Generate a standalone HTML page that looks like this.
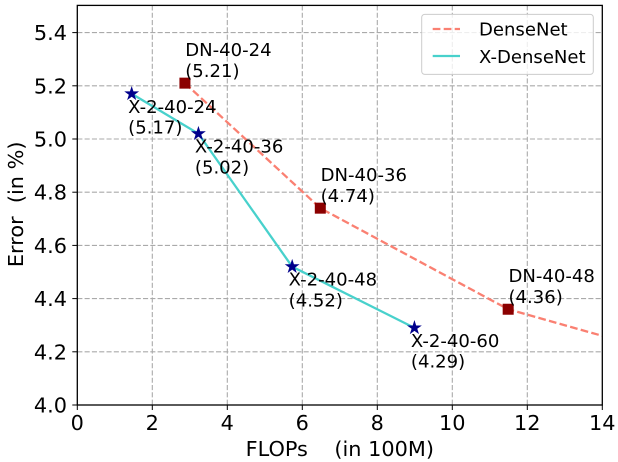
<!DOCTYPE html>
<html>
<head>
<meta charset="utf-8">
<style>
html,body{margin:0;padding:0;background:#fff;width:618px;height:462px;overflow:hidden}
svg{display:block}
text{font-family:"DejaVu Sans","Liberation Sans",sans-serif;fill:#000;white-space:pre}
</style>
</head>
<body>
<svg id="chart" xmlns="http://www.w3.org/2000/svg" width="618" height="462" viewBox="0 0 618 462">
  <rect x="77.3" y="5.4" width="525" height="399.6" fill="#fff"/>
  <g id="grid"></g>
  <defs><clipPath id="plot-clip"><rect x="77.3" y="5.4" width="525" height="399.6"/></clipPath></defs>
  <g id="series" clip-path="url(#plot-clip)"></g>
  <g id="markers"></g>
  <g id="annotations"></g>
  <rect x="77.3" y="5.4" width="525" height="399.6" fill="none" stroke="#000" stroke-width="1.3"/>
  <g id="ticks"></g>
  <text x="339.8" y="456" font-size="20.83" text-anchor="middle">FLOPs    (in 100M)</text>
  <text transform="translate(23,204.3) rotate(-90)" font-size="20.83" text-anchor="middle">Error  (in %)</text>
  <g>
    <rect x="421.7" y="14.4" width="171.6" height="60" rx="3" ry="3" fill="#fff" fill-opacity="0.8" stroke="#ccc" stroke-width="1"/>
    <line x1="432.7" y1="29" x2="460" y2="29" stroke="#fa8072" stroke-width="2.3" stroke-dasharray="7.7 3.3"/>
    <text x="479" y="35.7" font-size="18.06">DenseNet</text>
    <line x1="432.7" y1="56" x2="460" y2="56" stroke="#48d1cc" stroke-width="2.3"/>
    <text x="479" y="63" font-size="18.06">X-DenseNet</text>
  </g>
</svg>
<script>
const xTicks = [0, 2, 4, 6, 8, 10, 12, 14];
const yTicks = [4.0, 4.2, 4.4, 4.6, 4.8, 5.0, 5.2, 5.4];
const denseFlops = [2.87, 6.48, 11.49, 14];
const denseError = [5.21, 4.74, 4.36, 4.26];
const denseLabels = ['DN-40-24', 'DN-40-36', 'DN-40-48'];
const denseValues = ['(5.21)', '(4.74)', '(4.36)'];
const xdenseFlops = [1.45, 3.23, 5.73, 8.99];
const xdenseError = [5.17, 5.02, 4.52, 4.29];
const xdenseLabels = ['X-2-40-24', 'X-2-40-36', 'X-2-40-48', 'X-2-40-60'];
const xdenseValues = ['(5.17)', '(5.02)', '(4.52)', '(4.29)'];

const NS = 'http://www.w3.org/2000/svg';
const sx = v => 77.3 + v * 37.5;
const sy = v => 405 - (v - 4) * 266;
const make = (tag, parent) => {
  const el = document.createElementNS(NS, tag);
  parent.appendChild(el);
  return el;
};
const gridG = document.getElementById('grid');
const seriesG = document.getElementById('series');
const markersG = document.getElementById('markers');
const annG = document.getElementById('annotations');
const ticksG = document.getElementById('ticks');

xTicks.forEach(t => {
  const x = sx(t);
  if (t > 0 && t < 14) {
    const g = make('line', gridG);
    
    
    g.setAttribute('x1', x); g.setAttribute('x2', x);
    g.setAttribute('y1', 5.4); g.setAttribute('y2', 405);
    g.setAttribute('stroke', '#aaaaaa'); g.setAttribute('stroke-width', 1.1);
    g.setAttribute('stroke-dasharray', '5.1 2.2');
  }
  const m = make('line', ticksG);
  
  
  m.setAttribute('x1', x); m.setAttribute('x2', x);
  m.setAttribute('y1', 405); m.setAttribute('y2', 410);
  m.setAttribute('stroke', '#000'); m.setAttribute('stroke-width', 1);
  const l = make('text', ticksG);
  
  
  l.setAttribute('x', x); l.setAttribute('y', 430);
  l.setAttribute('font-size', 20.83); l.setAttribute('text-anchor', 'middle');
  l.textContent = String(t);
});

yTicks.forEach(t => {
  const y = sy(t);
  if (t > 4) {
    const g = make('line', gridG);
    
    
    g.setAttribute('x1', 77.3); g.setAttribute('x2', 602.3);
    g.setAttribute('y1', y); g.setAttribute('y2', y);
    g.setAttribute('stroke', '#aaaaaa'); g.setAttribute('stroke-width', 1.1);
    g.setAttribute('stroke-dasharray', '5.1 2.2');
  }
  const m = make('line', ticksG);
  
  
  m.setAttribute('x1', 72.3); m.setAttribute('x2', 77.3);
  m.setAttribute('y1', y); m.setAttribute('y2', y);
  m.setAttribute('stroke', '#000'); m.setAttribute('stroke-width', 1);
  const l = make('text', ticksG);
  
  
  l.setAttribute('x', 67); l.setAttribute('y', y + 7.5);
  l.setAttribute('font-size', 20.83); l.setAttribute('text-anchor', 'end');
  l.textContent = t.toFixed(1);
});

const densePath = make('polyline', seriesG);


densePath.setAttribute('points', denseFlops.map((v, i) => sx(v) + ',' + sy(denseError[i])).join(' '));
densePath.setAttribute('fill', 'none');
densePath.setAttribute('stroke', '#fa8072');
densePath.setAttribute('stroke-width', 2.3);
densePath.setAttribute('stroke-dasharray', '7.7 3.3');

const xPath = make('polyline', seriesG);


xPath.setAttribute('points', xdenseFlops.map((v, i) => sx(v) + ',' + sy(xdenseError[i])).join(' '));
xPath.setAttribute('fill', 'none');
xPath.setAttribute('stroke', '#48d1cc');
xPath.setAttribute('stroke-width', 2.3);

denseLabels.forEach((name, i) => {
  const x = sx(denseFlops[i]);
  const y = sy(denseError[i]);
  const r = make('rect', markersG);
  
  
  r.setAttribute('x', x - 5.5); r.setAttribute('y', y - 5.5);
  r.setAttribute('width', 11); r.setAttribute('height', 11);
  r.setAttribute('fill', '#8b0000');
  const t1 = make('text', annG);
  
  
  t1.setAttribute('x', x + 0.3); t1.setAttribute('y', y - 27);
  t1.setAttribute('font-size', 18.06);
  t1.textContent = name;
  const t2 = make('text', annG);
  
  
  t2.setAttribute('x', x + 0.3); t2.setAttribute('y', y - 6.3);
  t2.setAttribute('font-size', 18.06);
  t2.textContent = denseValues[i];
});

const starPoints = (cx, cy, R) => {
  const pts = [];
  for (let k = 0; k < 10; k++) {
    const rad = k % 2 ? R * 0.382 : R;
    const a = -Math.PI / 2 + k * Math.PI / 5;
    pts.push((cx + rad * Math.cos(a)).toFixed(2) + ',' + (cy + rad * Math.sin(a)).toFixed(2));
  }
  return pts.join(' ');
};

xdenseLabels.forEach((name, i) => {
  const x = sx(xdenseFlops[i]);
  const y = sy(xdenseError[i]);
  const s = make('polygon', markersG);
  
  
  s.setAttribute('points', starPoints(x, y, 7.8));
  s.setAttribute('fill', '#00008b');
  const t1 = make('text', annG);
  
  
  t1.setAttribute('x', x - 3.5); t1.setAttribute('y', y + 19);
  t1.setAttribute('font-size', 18.06);
  t1.textContent = name;
  const t2 = make('text', annG);
  
  
  t2.setAttribute('x', x - 3.5); t2.setAttribute('y', y + 39.7);
  t2.setAttribute('font-size', 18.06);
  t2.textContent = xdenseValues[i];
});
</script>
</body>
</html>
